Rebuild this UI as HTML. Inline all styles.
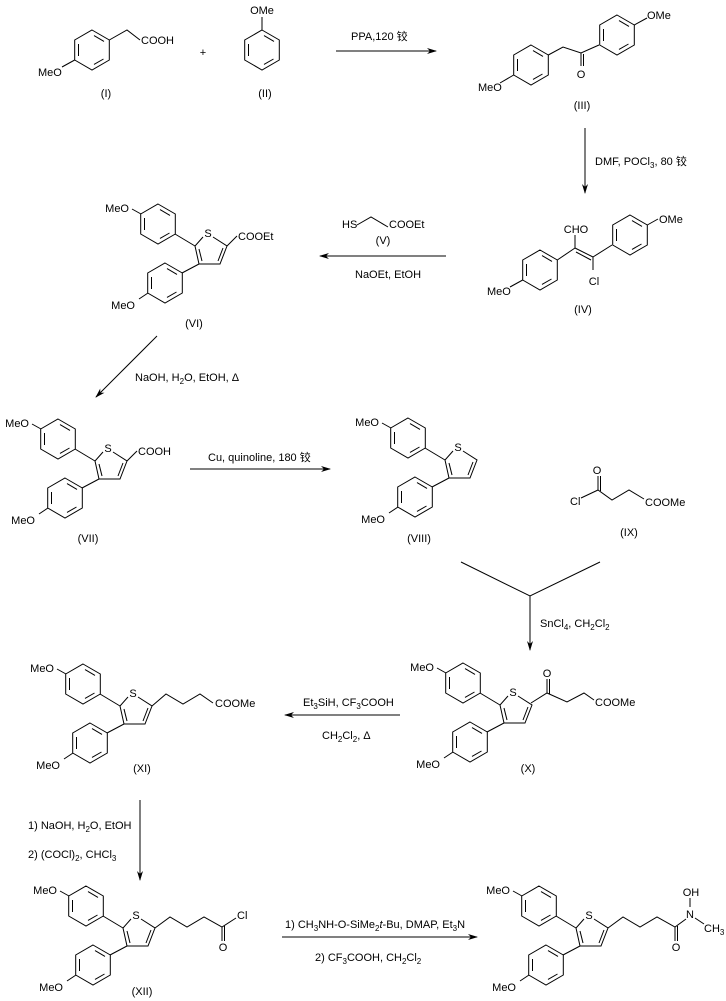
<!DOCTYPE html>
<html><head><meta charset="utf-8"><style>
body{margin:0;background:#fff}
svg{display:block}
text{font-family:"Liberation Sans","Noto Sans CJK SC",sans-serif;font-size:11px;fill:#000}
.s{font-size:8px}
</style></head><body>
<svg width="726" height="1001" viewBox="0 0 726 1001" xmlns="http://www.w3.org/2000/svg" stroke="#000" stroke-width="1" fill="none">
<defs>
<g id="bz">
<polygon points="0,-20 17.3,-10 17.3,10 0,20 -17.3,10 -17.3,-10"/>
<line x1="2" y1="-14.4" x2="12" y2="-8.6"/>
<line x1="11.5" y1="9" x2="2" y2="14.4"/>
<line x1="-13.5" y1="6" x2="-13.5" y2="-6"/>
</g>
<g id="core">
<use href="#bz" x="-50" y="-9"/>
<use href="#bz" x="-43" y="50"/>
<line x1="-67" y1="-19" x2="-76" y2="-24"/>
<line x1="-33" y1="1" x2="-13" y2="13"/>
<line x1="-26" y1="40" x2="-9" y2="31"/>
<line x1="-60" y1="60" x2="-69" y2="66"/>
<polyline points="-5,4 -13,13 -9,31 12,31 19,13 5,4"/>
<line x1="-6" y1="28" x2="-9" y2="16"/>
<line x1="15" y1="15" x2="10" y2="28"/>
</g>
<marker id="ah" markerWidth="10" markerHeight="6" refX="9" refY="3" orient="auto" markerUnits="userSpaceOnUse">
<path d="M0,0 L10,3 L0,6 L3,3 Z" fill="#000" stroke="none"/>
</marker>
</defs>

<!-- I -->
<use href="#bz" x="92" y="50"/>
<line x1="74.7" y1="60" x2="62" y2="67"/>
<polyline points="109.3,40 127,30 140,40"/>
<g stroke="none">
<text x="38" y="76">MeO</text>
<text x="141" y="44">COOH</text>
<text x="106" y="97" text-anchor="middle">(I)</text>
<text x="203" y="56" text-anchor="middle">+</text>
<text x="262" y="14" text-anchor="middle">OMe</text>
<text x="265" y="97" text-anchor="middle">(II)</text>
</g>
<!-- II -->
<use href="#bz" x="262" y="50"/>
<line x1="262" y1="30" x2="262" y2="17"/>

<!-- arrow1 -->
<line x1="336" y1="51" x2="436" y2="51" marker-end="url(#ah)"/>
<text x="351" y="40" stroke="none">PPA,120 铰</text>

<!-- III -->
<use href="#bz" x="531" y="65"/>
<line x1="513.7" y1="75" x2="500" y2="83"/>
<polyline points="548.3,55 563,47 581,53 599,45"/>
<line x1="581" y1="53" x2="581" y2="66"/>
<line x1="583.5" y1="54" x2="583.5" y2="66"/>
<use href="#bz" x="617" y="35"/>
<line x1="634.3" y1="25" x2="647" y2="18"/>
<g stroke="none">
<text x="478" y="91">MeO</text>
<text x="581" y="78" text-anchor="middle">O</text>
<text x="647" y="19">OMe</text>
<text x="582" y="109" text-anchor="middle">(III)</text>
</g>

<!-- arrow2 -->
<line x1="585" y1="128" x2="585" y2="193" marker-end="url(#ah)"/>
<text x="595" y="165" stroke="none">DMF, POCl<tspan class="s" dy="3">3</tspan><tspan dy="-3">, 80 铰</tspan></text>

<!-- IV -->
<use href="#bz" x="540" y="270"/>
<line x1="522.7" y1="280" x2="510" y2="287"/>
<line x1="557.3" y1="260" x2="575" y2="248"/>
<line x1="575" y1="248" x2="593" y2="257"/>
<line x1="576" y1="252" x2="591" y2="260"/>
<line x1="575" y1="248" x2="575" y2="235"/>
<line x1="593" y1="257" x2="593" y2="270"/>
<line x1="593" y1="257" x2="612" y2="245"/>
<use href="#bz" x="630" y="235"/>
<line x1="647.3" y1="225" x2="658" y2="219"/>
<g stroke="none">
<text x="487" y="295">MeO</text>
<text x="576" y="233" text-anchor="middle">CHO</text>
<text x="594" y="285" text-anchor="middle">Cl</text>
<text x="659" y="223">OMe</text>
<text x="583" y="313" text-anchor="middle">(IV)</text>
</g>

<!-- arrow3 -->
<line x1="446" y1="256" x2="320" y2="256" marker-end="url(#ah)"/>
<polyline points="357,225 371,217 388,227"/>
<g stroke="none">
<text x="342" y="228">HS</text>
<text x="389" y="228">COOEt</text>
<text x="383" y="244" text-anchor="middle">(V)</text>
<text x="355" y="278">NaOEt, EtOH</text>
</g>

<!-- VI -->
<g transform="translate(208,233)">
<use href="#core"/>
<line x1="19" y1="13" x2="29" y2="3"/>
<g stroke="none">
<text x="-79" y="-21" text-anchor="end">MeO</text>
<text x="-73" y="76" text-anchor="end">MeO</text>
<text x="0" y="4" text-anchor="middle">S</text>
<text x="30" y="7">COOEt</text>
</g>
</g>
<text x="194" y="327" text-anchor="middle" stroke="none">(VI)</text>

<!-- arrow4 -->
<line x1="157" y1="336" x2="96" y2="397" marker-end="url(#ah)"/>
<text x="135" y="381" stroke="none">NaOH, H<tspan class="s" dy="3">2</tspan><tspan dy="-3">O, EtOH, Δ</tspan></text>

<!-- VII -->
<g transform="translate(108,448)">
<use href="#core"/>
<line x1="19" y1="13" x2="29" y2="3"/>
<g stroke="none">
<text x="-79" y="-21" text-anchor="end">MeO</text>
<text x="-73" y="76" text-anchor="end">MeO</text>
<text x="0" y="4" text-anchor="middle">S</text>
<text x="30" y="7">COOH</text>
</g>
</g>
<text x="88" y="542" text-anchor="middle" stroke="none">(VII)</text>

<!-- arrow5 -->
<line x1="190" y1="469" x2="330" y2="469" marker-end="url(#ah)"/>
<text x="208" y="461" stroke="none">Cu, quinoline, 180 铰</text>

<!-- VIII -->
<g transform="translate(458,447)">
<use href="#core"/>
<g stroke="none">
<text x="-79" y="-21" text-anchor="end">MeO</text>
<text x="-73" y="76" text-anchor="end">MeO</text>
<text x="0" y="4" text-anchor="middle">S</text>
</g>
</g>
<text x="419" y="542" text-anchor="middle" stroke="none">(VIII)</text>

<!-- IX -->
<polyline points="581,498 598,490 612,500 629,490 644,499"/>
<line x1="598" y1="490" x2="598" y2="476"/>
<line x1="600.5" y1="491" x2="600.5" y2="476"/>
<g stroke="none">
<text x="570" y="505">Cl</text>
<text x="597" y="474" text-anchor="middle">O</text>
<text x="645" y="506">COOMe</text>
<text x="629" y="536" text-anchor="middle">(IX)</text>
</g>

<!-- arrow6 -->
<polyline points="461,562 530,596 600,562"/>
<line x1="530" y1="596" x2="530" y2="650" marker-end="url(#ah)"/>
<text x="540" y="627" stroke="none">SnCl<tspan class="s" dy="3">4</tspan><tspan dy="-3">, CH</tspan><tspan class="s" dy="3">2</tspan><tspan dy="-3">Cl</tspan><tspan class="s" dy="3">2</tspan></text>

<!-- X -->
<g transform="translate(513,692)">
<use href="#core"/>
<polyline points="18,11 34,1 54,10 71,1 81,8"/>
<line x1="34" y1="1" x2="34" y2="-13"/>
<line x1="36.5" y1="2" x2="36.5" y2="-13"/>
<g stroke="none">
<text x="-79" y="-21" text-anchor="end">MeO</text>
<text x="-73" y="76" text-anchor="end">MeO</text>
<text x="0" y="4" text-anchor="middle">S</text>
<text x="34" y="-15" text-anchor="middle">O</text>
<text x="82" y="14">COOMe</text>
</g>
</g>
<text x="528" y="772" text-anchor="middle" stroke="none">(X)</text>

<!-- arrow7 -->
<line x1="400" y1="715" x2="285" y2="715" marker-end="url(#ah)"/>
<text x="303" y="706" stroke="none">Et<tspan class="s" dy="3">3</tspan><tspan dy="-3">SiH, CF</tspan><tspan class="s" dy="3">3</tspan><tspan dy="-3">COOH</tspan></text>
<text x="322" y="739" stroke="none">CH<tspan class="s" dy="3">2</tspan><tspan dy="-3">Cl</tspan><tspan class="s" dy="3">2</tspan><tspan dy="-3">, Δ</tspan></text>

<!-- XI -->
<g transform="translate(133,693)">
<use href="#core"/>
<polyline points="19,13 33,1 50,11 67,1 80,10"/>
<g stroke="none">
<text x="-79" y="-21" text-anchor="end">MeO</text>
<text x="-73" y="76" text-anchor="end">MeO</text>
<text x="0" y="4" text-anchor="middle">S</text>
<text x="82" y="14">COOMe</text>
</g>
</g>
<text x="142" y="772" text-anchor="middle" stroke="none">(XI)</text>

<!-- arrow8 -->
<line x1="140" y1="800" x2="140" y2="880" marker-end="url(#ah)"/>
<text x="28" y="829" stroke="none">1) NaOH, H<tspan class="s" dy="3">2</tspan><tspan dy="-3">O, EtOH</tspan></text>
<text x="28" y="858" stroke="none">2) (COCl)<tspan class="s" dy="3">2</tspan><tspan dy="-3">, CHCl</tspan><tspan class="s" dy="3">3</tspan></text>

<!-- XII -->
<g transform="translate(136,915)">
<use href="#core"/>
<polyline points="19,13 34,2 51,12 68,2 86,12 100,3"/>
<line x1="86" y1="12" x2="86" y2="26"/>
<line x1="88.5" y1="11" x2="88.5" y2="26"/>
<g stroke="none">
<text x="-79" y="-21" text-anchor="end">MeO</text>
<text x="-73" y="76" text-anchor="end">MeO</text>
<text x="0" y="4" text-anchor="middle">S</text>
<text x="101" y="4">Cl</text>
<text x="87" y="36" text-anchor="middle">O</text>
</g>
</g>
<text x="142" y="995" text-anchor="middle" stroke="none">(XII)</text>

<!-- arrow9 -->
<line x1="282" y1="937" x2="477" y2="937" marker-end="url(#ah)"/>
<text x="285" y="928" stroke="none">1) CH<tspan class="s" dy="3">3</tspan><tspan dy="-3">NH-O-SiMe</tspan><tspan class="s" dy="3">2</tspan><tspan dy="-3"><tspan font-style="italic">t</tspan>-Bu, DMAP, Et</tspan><tspan class="s" dy="3">3</tspan><tspan dy="-3">N</tspan></text>
<text x="315" y="961" stroke="none">2) CF<tspan class="s" dy="3">3</tspan><tspan dy="-3">COOH, CH</tspan><tspan class="s" dy="3">2</tspan><tspan dy="-3">Cl</tspan><tspan class="s" dy="3">2</tspan></text>

<!-- final -->
<g transform="translate(589,915)">
<use href="#core"/>
<polyline points="19,13 34,2 51,12 68,2 86,12 97,4"/>
<line x1="86" y1="12" x2="86" y2="26"/>
<line x1="88.5" y1="11" x2="88.5" y2="26"/>
<line x1="101" y1="-8" x2="101" y2="-17"/>
<line x1="106" y1="3" x2="115" y2="9"/>
<g stroke="none">
<text x="-79" y="-21" text-anchor="end">MeO</text>
<text x="-73" y="76" text-anchor="end">MeO</text>
<text x="0" y="4" text-anchor="middle">S</text>
<text x="101" y="3" text-anchor="middle">N</text>
<text x="102" y="-19" text-anchor="middle">OH</text>
<text x="115" y="17">CH<tspan class="s" dy="3">3</tspan></text>
<text x="87" y="36" text-anchor="middle">O</text>
</g>
</g>
</svg>
</body></html>
